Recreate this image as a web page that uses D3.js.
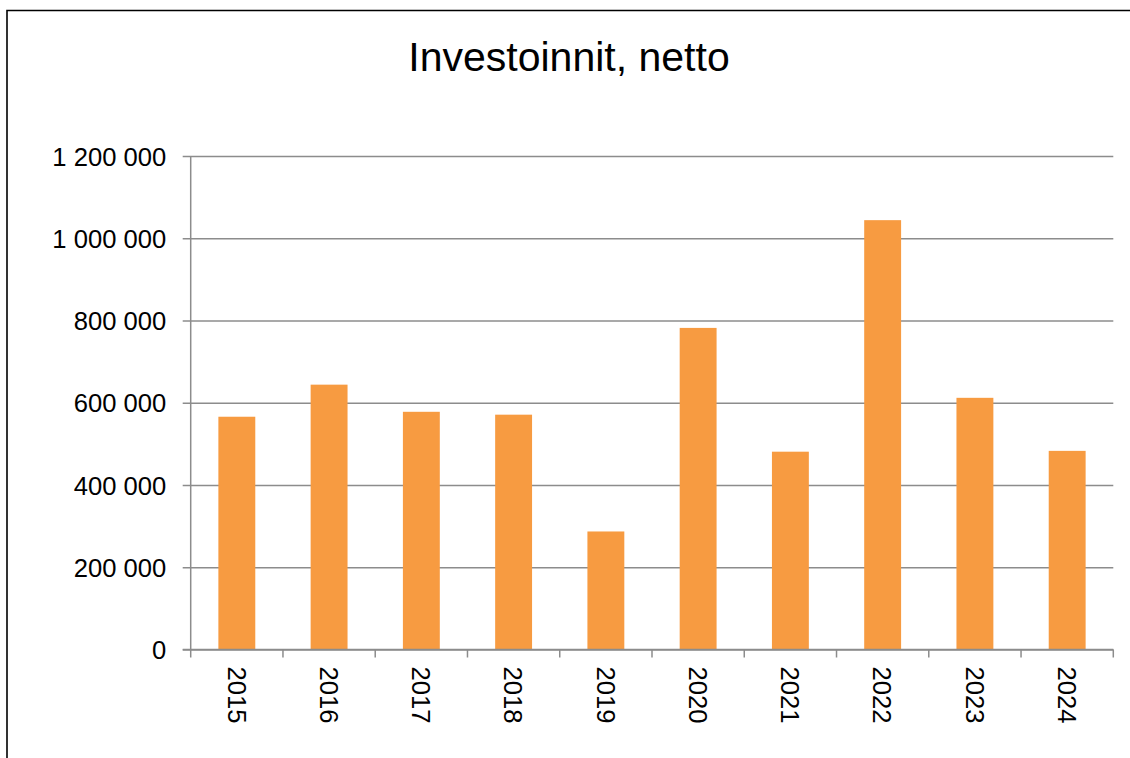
<!DOCTYPE html>
<html>
<head>
<meta charset="utf-8">
<script src="https://cdn.jsdelivr.net/npm/d3@7"></script>
<style>
  body { margin: 0; background: #fff; }
  svg { display: block; font-family: "Liberation Sans", Arial, sans-serif; }
</style>
</head>
<body>
<svg id="chart"></svg>
<script>
// data
const years = ["2015", "2016", "2017", "2018", "2019", "2020", "2021", "2022", "2023", "2024"];
const values = [566000, 644000, 578000, 571000, 287000, 782000, 481000, 1044000, 612000, 483000];
const yTicks = [0, 200000, 400000, 600000, 800000, 1000000, 1200000];
const title = "Investoinnit, netto";

var w = 1130;
var h = 758;
// plot area (don't use "top", it's window.top)
var plotLeft = 190.7, plotRight = 1113.3, plotTop = 156, plotBottom = 649.5;

var svg = d3.select("#chart")
    .attr("width", w)
    .attr("height", h);

// outer frame
svg.append("path")
    .attr("d", "M7," + (h + 5) + "V10.5H" + (w + 5))
    .attr("fill", "none")
    .attr("stroke", "#000")
    .attr("stroke-width", 1.6);

svg.append("text")
    .attr("x", 569)
    .attr("y", 70.7)
    .attr("text-anchor", "middle")
    .style("font-size", "41px")
    .text(title);

var x = d3.scaleBand()
    .domain(years)
    .range([plotLeft, plotRight])
    .paddingInner(0.6)
    .paddingOuter(0.3);

var y = d3.scaleLinear()
    .domain([0, 1200000])
    .range([plotBottom, plotTop]);

const fmt = (d) => d3.format(",")(d).replace(/,/g, " ");

// gridlines + y ticks
var yAxis = svg.append("g")
    .attr("transform", "translate(" + plotLeft + ",0)")
    .call(d3.axisLeft(y)
        .tickValues(yTicks)
        .tickSize(-(plotRight - plotLeft))
        .tickFormat(fmt));
yAxis.select(".domain").remove();
yAxis.selectAll(".tick line")
    .attr("x1", -8)
    .attr("stroke", "#8c8c8c")
    .attr("stroke-width", 1.5);
yAxis.selectAll(".tick text")
    .attr("x", -24.5)
    .attr("dy", "0.36em")
    .attr("fill", "#000")
    .style("font-size", "25.6px");

// bars
svg.selectAll(".bar")
    .data(values)
    .enter()
    .append("rect")
    .attr("class", "bar")
    .attr("x", (d, i) => x(years[i]))
    .attr("width", x.bandwidth())
    .attr("y", (d) => y(d))
    .attr("height", (d) => y(0) - y(d))
    .attr("fill", "#f79b41");

// y axis line
svg.append("line")
    .attr("x1", plotLeft).attr("x2", plotLeft)
    .attr("y1", plotTop).attr("y2", plotBottom)
    .attr("stroke", "#8c8c8c")
    .attr("stroke-width", 1.5);

// x axis line and ticks
svg.append("line")
    .attr("x1", plotLeft - 8).attr("x2", plotRight)
    .attr("y1", plotBottom).attr("y2", plotBottom)
    .attr("stroke", "#8c8c8c")
    .attr("stroke-width", 1.5);

var step = x.step();
svg.selectAll(".xtick")
    .data(d3.range(years.length + 1))
    .enter()
    .append("line")
    .attr("class", "xtick")
    .attr("x1", (i) => plotLeft + i * step)
    .attr("x2", (i) => plotLeft + i * step)
    .attr("y1", plotBottom)
    .attr("y2", plotBottom + 8)
    .attr("stroke", "#8c8c8c")
    .attr("stroke-width", 1.5);

svg.selectAll(".xlabel")
    .data(years)
    .enter()
    .append("text")
    .attr("class", "xlabel")
    .attr("transform", (d) => "translate(" + (x(d) + x.bandwidth() / 2) + "," + (plotBottom + 17) + ") rotate(90)")
    .attr("dy", "0.36em")
    .attr("text-anchor", "start")
    .style("font-size", "25.6px")
    .text((d) => d);
</script>
</body>
</html>
